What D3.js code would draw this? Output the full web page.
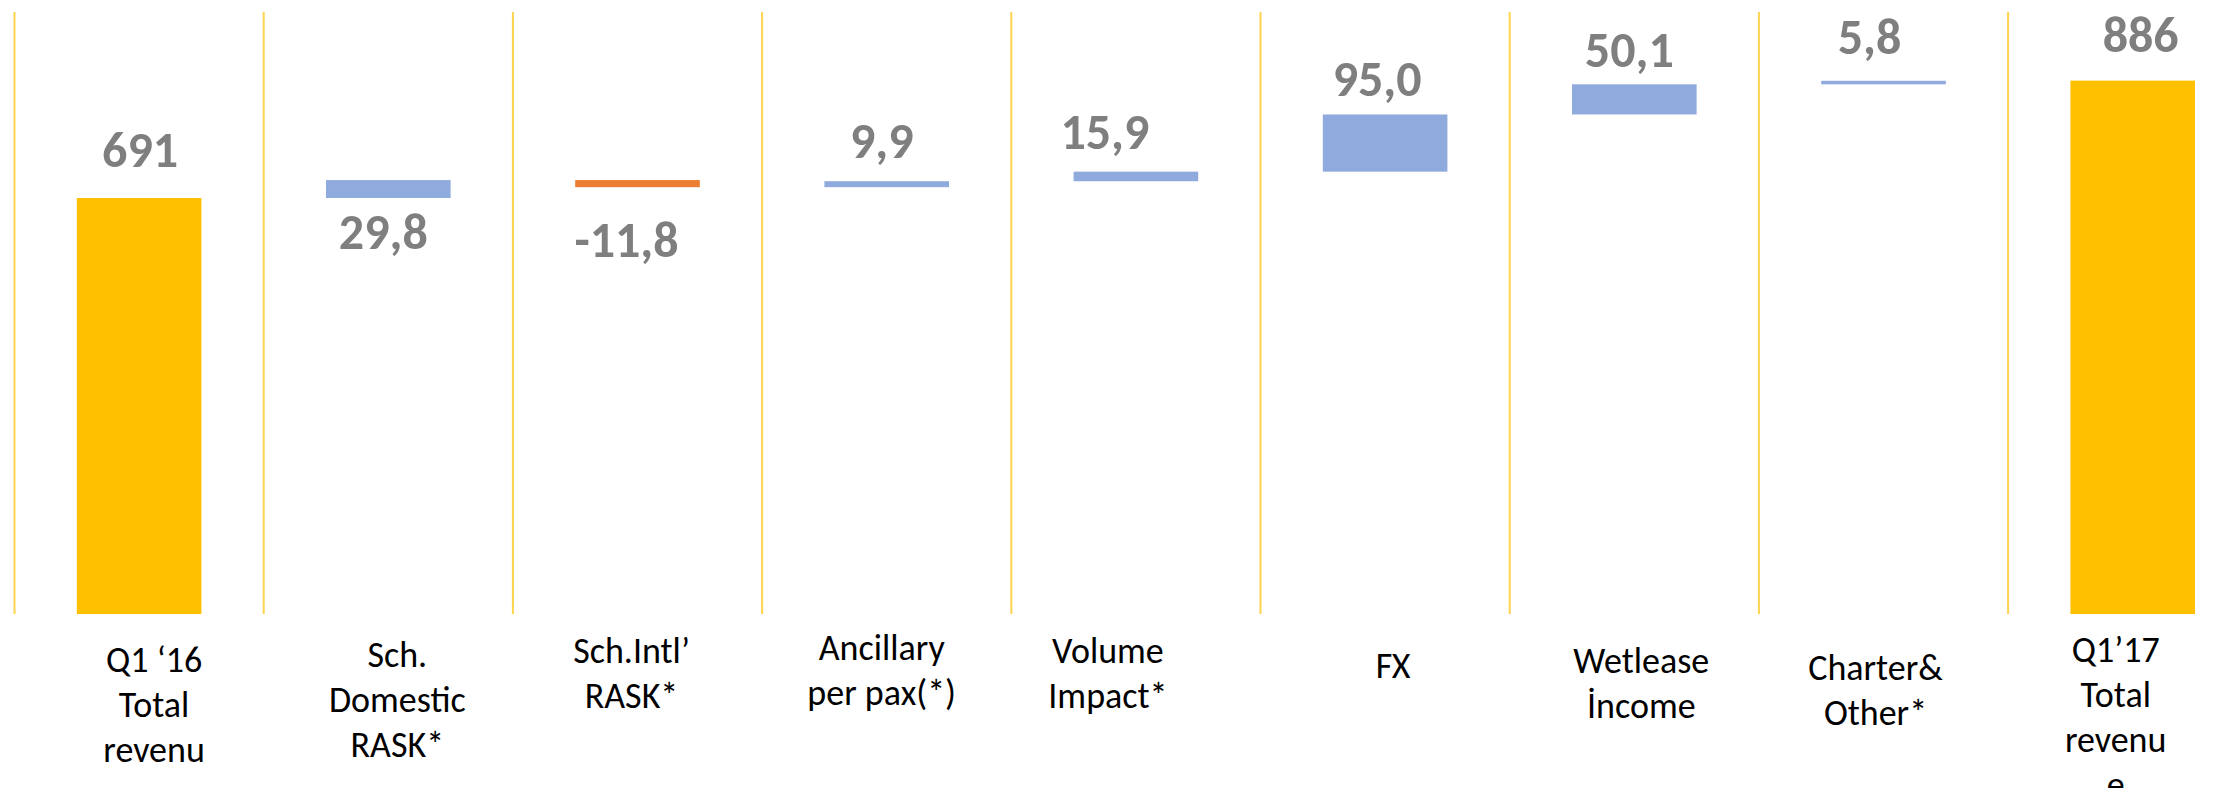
<!DOCTYPE html>
<html>
<head>
<meta charset="utf-8">
<script src="https://cdn.jsdelivr.net/npm/d3@7"></script>
<style>
  html, body { margin: 0; padding: 0; background: #ffffff; overflow: hidden; }
  .chart text { font-family: Carlito, Lato, "Open Sans", sans-serif; }
</style>
</head>
<body>
<div class="chart"></div>
<script>

var w = 2237;
var h = 788;

// data
var categories = ["q116", "domestic", "intl", "ancillary", "volume", "fx", "wetlease", "charter", "q117"];
var categoryLines = [
    ["Q1 \u201816", "Total", "revenu"],
    ["Sch.", "Domestic", "RASK*"],
    ["Sch.Intl\u2019", "RASK*"],
    ["Ancillary", "per pax(*)"],
    ["Volume", "Impact*"],
    ["FX"],
    ["Wetlease", "\u0130ncome"],
    ["Charter&", "Other*"],
    ["Q1\u201917", "Total", "revenu", "e"]
];
var values = [691, 29.8, -11.8, 9.9, 15.9, 95.0, 50.1, 5.8, 886];
var kinds = ["total", "delta", "delta", "delta", "delta", "delta", "delta", "delta", "total"];
var yTicks = [0, 1000];

// label nudges (px)
var valueSide = ["top", "bottom", "bottom", "top", "top", "top", "top", "top", "top"];
var valueGap = [31, 51, 70, 23, 23, 18, 17, 27, 29];
var valueDx = [1, -5, -11, -5, -31, -8, -5, -14, 8];
var catDx = [15, 9, -6, -5, -28, 8, 7, -8, -17];
var catTop = [58, 53, 49, 46, 49, 64, 59, 66, 48];
var lineH = 45;

// waterfall start/end
var rows = [];
var running = 0;
values.forEach(function(v, i) {
    var r = { cat: categories[i], value: v, kind: kinds[i] };
    if (kinds[i] == "total") {
        r.lo = 0;
        r.hi = v;
        running = v;
    } else {
        r.lo = Math.min(running, running + v);
        r.hi = Math.max(running, running + v);
        running = running + v;
    }
    rows.push(r);
});

var step = 249.2;
var x = d3.scaleBand()
    .domain(categories)
    .range([14.5, 14.5 + step * categories.length])
    .paddingInner(0.5)
    .paddingOuter(0.25);

var y = d3.scaleLinear()
    .domain([yTicks[0], yTicks[1]])
    .range([614, 12]);

function color(d) {
    if (d.kind == "total") return "#FFC000";
    if (d.value < 0) return "#ED7D31";
    return "#8FAADC";
}

var loc = d3.formatLocale({ decimal: ",", thousands: ".", grouping: [3], currency: ["", ""], minus: "-" });
function fmt(d) {
    if (d.kind == "total") return loc.format("d")(d.value);
    return loc.format(".1f")(d.value);
}

var svg = d3.select(".chart")
    .append("svg")
    .attr("width", w)
    .attr("height", h);

// vertical gridlines at category boundaries
svg.selectAll("line.grid")
    .data(categories)
    .enter()
    .append("line")
    .attr("class", "grid")
    .attr("x1", function(d) { return x(d) - x.step() * 0.25; })
    .attr("x2", function(d) { return x(d) - x.step() * 0.25; })
    .attr("y1", y(yTicks[1]))
    .attr("y2", y(yTicks[0]))
    .attr("stroke", "#FFD34E")
    .attr("stroke-width", 2);

svg.selectAll("rect.bar")
    .data(rows)
    .enter()
    .append("rect")
    .attr("class", "bar")
    .attr("x", function(d) { return x(d.cat); })
    .attr("width", x.bandwidth())
    .attr("y", function(d) { return y(d.hi); })
    .attr("height", function(d) { return y(d.lo) - y(d.hi); })
    .attr("fill", color);

// value labels
svg.selectAll("text.value")
    .data(rows)
    .enter()
    .append("text")
    .attr("class", "value")
    .text(fmt)
    .attr("x", function(d, i) { return x(d.cat) + x.bandwidth() / 2 + valueDx[i]; })
    .attr("y", function(d, i) {
        if (valueSide[i] == "top") return y(d.hi) - valueGap[i];
        return y(d.lo) + valueGap[i];
    })
    .attr("text-anchor", "middle")
    .attr("font-size", "50px")
    .attr("font-weight", "bold")
    .attr("fill", "#7F7F7F");

// category labels
var cat = svg.selectAll("text.cat")
    .data(rows)
    .enter()
    .append("text")
    .attr("class", "cat")
    .attr("text-anchor", "middle")
    .attr("font-size", "36px")
    .attr("fill", "#000000");

cat.each(function(d, i) {
    var cx = x(d.cat) + x.bandwidth() / 2 + catDx[i];
    d3.select(this).selectAll("tspan")
        .data(categoryLines[i])
        .enter()
        .append("tspan")
        .attr("x", cx)
        .attr("y", function(t, j) { return y(0) + catTop[i] + j * lineH; })
        .text(function(t) { return t; });
});

</script>
</body>
</html>
